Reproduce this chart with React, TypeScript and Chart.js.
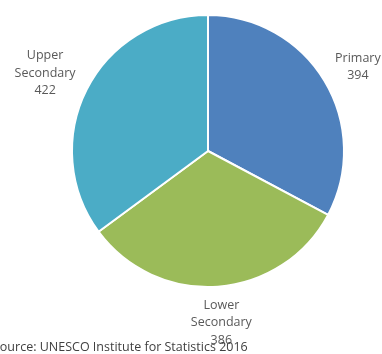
import React, { useEffect, useRef } from "react";
import { Chart, registerables } from "chart.js";

Chart.register(...registerables);

const categories = ["Primary", "Lower Secondary", "Upper Secondary"];
const labelLines = [["Primary"], ["Lower", "Secondary"], ["Upper", "Secondary"]];
const values = [394, 386, 422];
const colors = ["#4F81BD", "#9BBB59", "#4BACC6"];
const sourceText = "Source: UNESCO Institute for Statistics 2016";

const FONT = "12.5px 'Open Sans'";
const LINE_H = 17.5;

const outsideLabels = {
  id: "outsideLabels",
  afterDatasetsDraw(chart: any) {
    const ctx = chart.ctx;
    const meta = chart.getDatasetMeta(0);
    ctx.save();
    ctx.font = FONT;
    ctx.fillStyle = "#595959";
    ctx.textAlign = "center";
    ctx.textBaseline = "middle";
    meta.data.forEach((arc: any, i: number) => {
      const { x, y, startAngle, endAngle, outerRadius } = arc.getProps(
        ["x", "y", "startAngle", "endAngle", "outerRadius"],
        true
      );
      const mid = (startAngle + endAngle) / 2;
      const cos = Math.cos(mid);
      const sin = Math.sin(mid);
      const lines = [...labelLines[i], String(values[i])];
      const w = Math.max(...lines.map((l) => ctx.measureText(l).width));
      const h = lines.length * LINE_H;
      const ax = x + cos * (outerRadius + 10);
      const ay = y + sin * (outerRadius + 10);
      const cx = ax + cos * (w / 2 + 6);
      const cy = ay + sin * (h / 2);
      lines.forEach((l, k) => {
        ctx.fillText(l, cx, cy - h / 2 + LINE_H * (k + 0.5));
      });
    });
    ctx.restore();
  },
};

export default function App() {
  const ref = useRef<HTMLCanvasElement>(null);
  useEffect(() => {
    if (!ref.current) return;
    const chart = new Chart(ref.current, {
      type: "pie",
      data: {
        labels: categories,
        datasets: [
          {
            data: values,
            backgroundColor: colors,
            borderColor: "#ffffff",
            borderWidth: 2,
          },
        ],
      },
      options: {
        animation: false,
        responsive: false,
        layout: { padding: { left: 71, right: 37, top: 14, bottom: 66 } },
        plugins: {
          legend: { display: false },
          tooltip: { enabled: false },
        },
      },
      plugins: [outsideLabels],
    });
    return () => chart.destroy();
  }, []);
  return (
    <div style={{ position: "fixed", left: 0, top: 0, width: 382, height: 354, overflow: "hidden", background: "#fff" }}>
      <canvas ref={ref} width={382} height={354} style={{ position: "absolute", left: 0, top: 0 }} />
      <div
        style={{
          position: "absolute",
          left: -7,
          top: 339,
          font: "12.5px 'Open Sans'",
          color: "#404040",
          whiteSpace: "nowrap",
          lineHeight: "15px",
        }}
      >
        {sourceText}
      </div>
    </div>
  );
}
